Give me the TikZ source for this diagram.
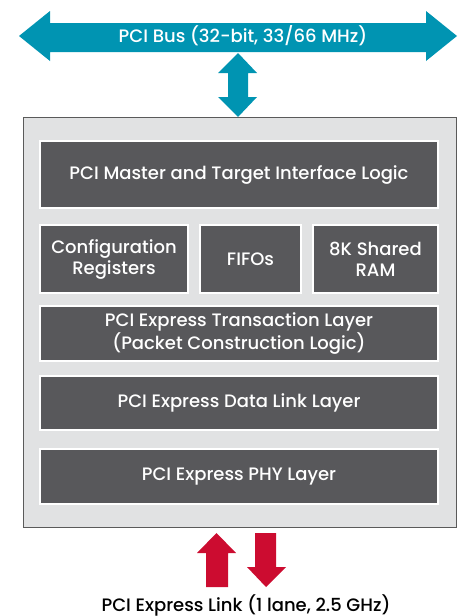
\documentclass[tikz,border=0pt]{standalone}
\usepackage{fontspec}
\setmainfont{Poppins}[UprightFont={* Medium}]
\definecolor{teal}{RGB}{0,148,178}
\definecolor{crim}{RGB}{204,12,48}
\definecolor{darkbox}{RGB}{88,88,91}
\definecolor{lightbg}{RGB}{225,226,227}
\definecolor{frame}{RGB}{90,90,90}
\begin{document}
\begin{tikzpicture}[x=1pt,y=-1pt,
  blk/.style={draw=white,line width=2pt,fill=darkbox,text=white,font=\fontsize{18}{21}\selectfont,align=center,inner sep=0pt,anchor=north west},
  lbl/.style={font=\fontsize{18}{21}\selectfont,inner sep=0pt}]
\useasboundingbox (0,0) rectangle (461,616);
% main box
\node[draw=frame,line width=1pt,fill=lightbg,minimum width=433pt,minimum height=410pt,inner sep=0pt,anchor=north west] (main) at (23,117) {};
% inner blocks
\node[blk,minimum width=398pt,minimum height=67pt] (master) at (39,140) {PCI Master and Target Interface Logic};
\node[blk,minimum width=148pt,minimum height=68pt] (cfg) at (39,224) {Configuration\\Registers};
\node[blk,minimum width=101pt,minimum height=68pt] (fifo) at (199,224) {FIFOs};
\node[blk,minimum width=125pt,minimum height=68pt] (ram) at (312,224) {8K Shared\\RAM};
\node[blk,minimum width=398pt,minimum height=55pt] (trans) at (39,305) {PCI Express Transaction Layer\\(Packet Construction Logic)};
\node[blk,minimum width=398pt,minimum height=54pt] (dll) at (39,375) {PCI Express Data Link Layer};
\node[blk,minimum width=398pt,minimum height=55pt] (phy) at (39,448) {PCI Express PHY Layer};
% top bus arrow
\fill[teal] (19,36) -- (50,11) -- (50,23) -- (426,23) -- (426,11) -- (457,36) -- (426,61) -- (426,52) -- (50,52) -- (50,61) -- cycle;
\node[lbl,text=white] (bus) at (243,36) {PCI Bus (32-bit, 33/66 MHz)};
% vertical double arrow
\fill[teal] (238,53) -- (257,73) -- (248,73) -- (248,97) -- (257,97) -- (238,117) -- (218,97) -- (228,97) -- (228,73) -- (218,73) -- cycle;
% red arrows
\fill[crim] (216.5,533) -- (236,553) -- (228,553) -- (228,587) -- (206,587) -- (206,553) -- (197,553) -- cycle;
\fill[crim] (255,533) -- (276,533) -- (276,567) -- (286,567) -- (266,587) -- (247,567) -- (255,567) -- cycle;
\node[lbl,text=black,anchor=base] (link) at (246,611) {PCI Express Link (1 lane, 2.5 GHz)};
\end{tikzpicture}
\end{document}
